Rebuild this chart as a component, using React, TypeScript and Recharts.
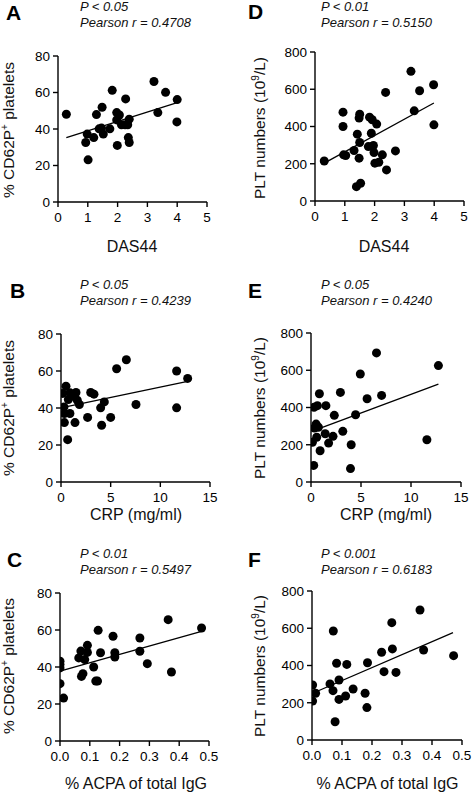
import React from "react";
import { ReferenceLine, Scatter, ScatterChart, XAxis, YAxis } from "recharts";

// tick values
const dasTicks = [0, 1, 2, 3, 4, 5];
const crpTicks = [0, 5, 10, 15];
const acpaTicks = [0, 0.1, 0.2, 0.3, 0.4, 0.5];
const cd62pTicks = [0, 20, 40, 60, 80];
const pltTicks = [0, 200, 400, 600, 800];

// A: DAS44 vs % CD62P+
const dasCd62pX = [0.28, 0.98, 0.93, 1.01, 1.2, 1.29, 1.38, 1.46, 1.48, 1.52, 1.74, 1.82, 1.97, 1.99, 2.06, 1.97, 2.13, 2.27, 2.25, 2.34, 2.39, 2.36, 2.39, 3.22, 3.35, 3.61, 4.0, 3.99];
const dasCd62pY = [48.1, 37.2, 32.6, 23.1, 35.3, 47.9, 40.1, 40.5, 51.9, 37.2, 40.1, 61.2, 49.0, 31.0, 47.7, 45.0, 42.3, 56.5, 42.3, 42.3, 45.4, 35.3, 32.6, 66.0, 49.0, 60.1, 56.1, 43.9];
const fitAX = [0.28, 4.0];
const fitAY = [35.3, 54.5];

// D: DAS44 vs PLT
const dasPltX = [0.31, 0.94, 0.94, 0.96, 1.03, 1.31, 1.42, 1.39, 1.53, 1.5, 1.48, 1.5, 1.48, 1.79, 1.83, 1.92, 1.89, 1.96, 1.98, 1.92, 2.07, 2.01, 2.14, 2.26, 2.37, 2.4, 2.7, 3.22, 3.33, 3.51, 3.98, 3.99];
const dasPltY = [215, 477, 400, 248, 244, 271, 359, 77, 95, 466, 445, 314, 230, 292, 450, 436, 364, 298, 260, 292, 413, 203, 208, 248, 583, 167, 269, 696, 484, 592, 624, 409];
const fitDX = [0.31, 3.99];
const fitDY = [203, 526];

// B: CRP vs % CD62P+
const crpCd62pX = [0.17, 0.5, 0.3, 0.34, 0.34, 0.67, 0.9, 0.74, 0.9, 1.07, 1.41, 1.51, 1.64, 1.85, 2.68, 2.99, 3.32, 3.99, 4.36, 4.09, 5.0, 5.6, 6.58, 7.55, 11.64, 11.64, 12.75];
const crpCd62pY = [47.9, 51.8, 40.6, 37.0, 32.1, 22.9, 48.2, 44.6, 37.0, 46.4, 32.1, 48.4, 44.2, 41.9, 34.9, 48.4, 47.5, 40.1, 43.3, 30.7, 34.9, 61.2, 66.1, 41.9, 60.0, 40.1, 56.0];
const fitBX = [0.1, 12.75];
const fitBY = [40.2, 54.4];

// E: CRP vs PLT
const crpPltX = [0.14, 0.27, 0.3, 0.34, 0.51, 0.64, 0.57, 0.74, 0.84, 0.91, 1.49, 1.42, 1.76, 2.2, 2.33, 2.94, 3.18, 3.95, 4.02, 4.46, 4.93, 5.61, 6.55, 7.06, 11.59, 12.74];
const crpPltY = [213, 89, 401, 290, 311, 410, 240, 294, 474, 168, 410, 259, 209, 245, 358, 481, 272, 72, 200, 361, 580, 447, 693, 465, 227, 625];
const fitEX = [0.74, 12.74];
const fitEY = [285, 526];

// C: ACPA vs % CD62P+
const acpaCd62pX = [0.0, 0.0, 0.0, 0.0, 0.012, 0.063, 0.07, 0.072, 0.077, 0.083, 0.092, 0.092, 0.113, 0.12, 0.126, 0.128, 0.136, 0.178, 0.184, 0.184, 0.268, 0.268, 0.293, 0.363, 0.374, 0.475];
const acpaCd62pY = [43.1, 41.3, 39.5, 31.0, 23.2, 44.9, 48.6, 34.9, 36.4, 44.0, 51.7, 47.9, 40.0, 32.4, 32.4, 59.8, 47.7, 56.6, 47.7, 45.4, 55.7, 48.5, 41.8, 65.6, 37.3, 61.1];
const fitCX = [0.0, 0.475];
const fitCY = [37.8, 59.3];

// F: ACPA vs PLT
const acpaPltX = [0.002, 0.002, 0.012, 0.06, 0.07, 0.071, 0.077, 0.082, 0.09, 0.09, 0.112, 0.116, 0.137, 0.177, 0.183, 0.185, 0.232, 0.24, 0.266, 0.268, 0.28, 0.36, 0.372, 0.472];
const acpaPltY = [295, 209, 251, 301, 265, 585, 98, 412, 322, 218, 236, 406, 274, 251, 174, 415, 471, 367, 630, 489, 363, 698, 483, 453];
const fitFX = [0.002, 0.47];
const fitFY = [251, 576];

const FONT = "'Liberation Sans', Arial, Helvetica, sans-serif";
const YW = 34;

const toPoints = (xs: number[], ys: number[]) => xs.map((x, i) => ({ x, y: ys[i] }));

interface PanelProps {
  left: number;
  x0: number;
  x1: number;
  y0: number;
  y1: number;
  xs: number[];
  ys: number[];
  fitX: number[];
  fitY: number[];
  xTicks: number[];
  yTicks: number[];
  xFmt?: (v: number) => string;
}

const Dot = (props: any) => <circle cx={props.cx} cy={props.cy} r={4.5} fill="#000" />;

const axisLine = { stroke: "#000", strokeWidth: 1.4 };
const tickStyle = { fill: "#000", fontSize: 13.5, fontFamily: FONT };

function Panel({ left, x0, x1, y0, y1, xs, ys, fitX, fitY, xTicks, yTicks, xFmt }: PanelProps) {
  const top = y0 - 10;
  const height = y1 - y0 + 10 + 30;
  const xDomain = [xTicks[0], xTicks[xTicks.length - 1]];
  const yDomain = [yTicks[0], yTicks[yTicks.length - 1]];
  return (
    <div style={{ position: "absolute", left, top }}>
      <ScatterChart
        width={236}
        height={height}
        margin={{ top: 10, right: left + 236 - x1, bottom: 0, left: x0 - left - YW }}
      >
        <XAxis
          type="number"
          dataKey="x"
          domain={xDomain}
          ticks={xTicks}
          interval={0}
          height={30}
          axisLine={axisLine}
          tickLine={axisLine}
          tickSize={5}
          tickMargin={5}
          tick={tickStyle}
          tickFormatter={xFmt}
          allowDataOverflow
        />
        <YAxis
          type="number"
          dataKey="y"
          domain={yDomain}
          ticks={yTicks}
          interval={0}
          width={YW}
          axisLine={axisLine}
          tickLine={axisLine}
          tickSize={5}
          tickMargin={3}
          tick={tickStyle}
          allowDataOverflow
        />
        <ReferenceLine
          segment={[
            { x: fitX[0], y: fitY[0] },
            { x: fitX[1], y: fitY[1] },
          ]}
          stroke="#000"
          strokeWidth={1.3}
          ifOverflow="visible"
        />
        <Scatter data={toPoints(xs, ys)} shape={Dot} isAnimationActive={false} />
      </ScatterChart>
    </div>
  );
}

const fmt1 = (v: number) => v.toFixed(1);

const letters = [
  { t: "A", x: 6, y: 20 },
  { t: "D", x: 248, y: 19 },
  { t: "B", x: 10, y: 298 },
  { t: "E", x: 248, y: 298 },
  { t: "C", x: 7, y: 567 },
  { t: "F", x: 248, y: 567 },
];

const stats = [
  { p: "P < 0.05", r: "Pearson r = 0.4708", x: 80, y: 10.5 },
  { p: "P < 0.01", r: "Pearson r = 0.5150", x: 321, y: 10.5 },
  { p: "P < 0.05", r: "Pearson r = 0.4239", x: 80, y: 288.5 },
  { p: "P < 0.05", r: "Pearson r = 0.4240", x: 321, y: 288.5 },
  { p: "P < 0.01", r: "Pearson r = 0.5497", x: 80, y: 557.5 },
  { p: "P < 0.001", r: "Pearson r = 0.6183", x: 321, y: 557.5 },
];

const xTitles = [
  { t: "DAS44", x: 132, y: 251.5 },
  { t: "DAS44", x: 384, y: 251.5 },
  { t: "CRP (mg/ml)", x: 136, y: 520 },
  { t: "CRP (mg/ml)", x: 386, y: 520 },
  { t: "% ACPA of total IgG", x: 136, y: 788.5 },
  { t: "% ACPA of total IgG", x: 387.5, y: 788.5 },
];

const cd62pTitles = [
  { x: 14, y: 130 },
  { x: 14, y: 408 },
  { x: 14, y: 666 },
];
const pltTitles = [
  { x: 265, y: 128 },
  { x: 265, y: 408 },
  { x: 265, y: 666 },
];

export default function App() {
  return (
    <div style={{ position: "absolute", left: 0, top: 0, width: 472, height: 795, background: "#fff", fontFamily: FONT }}>
      <Panel left={0} x0={58} x1={207} y0={56} y1={202} xs={dasCd62pX} ys={dasCd62pY} fitX={fitAX} fitY={fitAY} xTicks={dasTicks} yTicks={cd62pTicks} />
      <Panel left={236} x0={315} x1={464} y0={52} y1={201} xs={dasPltX} ys={dasPltY} fitX={fitDX} fitY={fitDY} xTicks={dasTicks} yTicks={pltTicks} />
      <Panel left={0} x0={61} x1={210} y0={334} y1={482} xs={crpCd62pX} ys={crpCd62pY} fitX={fitBX} fitY={fitBY} xTicks={crpTicks} yTicks={cd62pTicks} />
      <Panel left={236} x0={311} x1={461} y0={333} y1={482} xs={crpPltX} ys={crpPltY} fitX={fitEX} fitY={fitEY} xTicks={crpTicks} yTicks={pltTicks} />
      <Panel left={0} x0={60} x1={209} y0={593} y1={741} xs={acpaCd62pX} ys={acpaCd62pY} fitX={fitCX} fitY={fitCY} xTicks={acpaTicks} yTicks={cd62pTicks} xFmt={fmt1} />
      <Panel left={236} x0={312} x1={462} y0={591} y1={740} xs={acpaPltX} ys={acpaPltY} fitX={fitFX} fitY={fitFY} xTicks={acpaTicks} yTicks={pltTicks} xFmt={fmt1} />

      <svg width={472} height={795} style={{ position: "absolute", left: 0, top: 0, pointerEvents: "none" }}>
        {letters.map((l) => (
          <text key={l.t} x={l.x} y={l.y} fontSize={21} fontWeight="bold" fontFamily={FONT} fill="#000">
            {l.t}
          </text>
        ))}
        {stats.map((s, i) => (
          <g key={i} fontSize={13} fontStyle="italic" fontFamily={FONT} fill="#111">
            <text x={s.x} y={s.y}>{s.p}</text>
            <text x={s.x} y={s.y + 16}>{s.r}</text>
          </g>
        ))}
        {xTitles.map((t, i) => (
          <text key={i} x={t.x} y={t.y} fontSize={16} textAnchor="middle" fontFamily={FONT} fill="#111">
            {t.t}
          </text>
        ))}
        {cd62pTitles.map((t, i) => (
          <text key={i} transform={`translate(${t.x},${t.y}) rotate(-90)`} fontSize={15.5} textAnchor="middle" fontFamily={FONT} fill="#111">
            % CD62P<tspan fontSize={10} dy={-6}>+</tspan>
            <tspan dy={6}> platelets</tspan>
          </text>
        ))}
        {pltTitles.map((t, i) => (
          <text key={i} transform={`translate(${t.x},${t.y}) rotate(-90)`} fontSize={15.5} textAnchor="middle" fontFamily={FONT} fill="#111">
            PLT numbers (10<tspan fontSize={10} dy={-6}>9</tspan>
            <tspan dy={6}>/L)</tspan>
          </text>
        ))}
      </svg>
    </div>
  );
}
